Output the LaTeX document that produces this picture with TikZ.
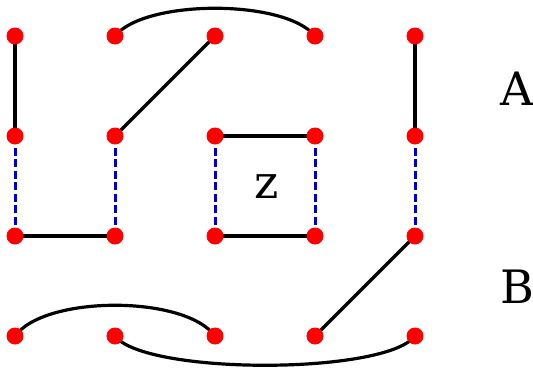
\documentclass[tikz,border=0pt]{standalone}
\usepackage{fontspec}
\setmainfont{DejaVu Serif}
\usetikzlibrary{backgrounds}
\definecolor{dblue}{RGB}{0,0,205}
\begin{document}
\begin{tikzpicture}[x=1pt,y=-1pt,
  dot/.style={circle,fill=red,inner sep=0pt,minimum size=17pt},
  edge/.style={black,line width=3.2pt},
  dashedge/.style={dblue,line width=3pt,dash pattern=on 8pt off 3.5pt},
  lab/.style={font=\fontsize{46}{50}\selectfont,inner sep=0pt}]
\useasboundingbox (0,0) rectangle (533,368);
\foreach \c/\x in {1/15,2/115,3/215,4/315,5/415}{
  \foreach \r/\y in {1/36,2/136,3/236,4/336}{
    \node[dot] (p\r\c) at (\x,\y) {};
  }
}
\node[lab] (A) at (517,89) {A};
\node[lab] (B) at (517,287) {B};
\node[lab] (z) at (267,187) {z};
\begin{scope}[on background layer]
\draw[edge] (p11.center) -- (p21.center);
\draw[edge] (p15.center) -- (p25.center);
\draw[edge] (p13.center) -- (p22.center);
\draw[edge] (p12.center) .. controls +(30,-37) and +(-30,-37) .. (p14.center);
\draw[edge] (p23.center) -- (p24.center);
\draw[edge] (p31.center) -- (p32.center);
\draw[edge] (p33.center) -- (p34.center);
\draw[edge] (p35.center) -- (p44.center);
\draw[edge] (p41.center) .. controls +(30,-41) and +(-30,-41) .. (p43.center);
\draw[edge] (p42.center) .. controls +(30,39) and +(-30,39) .. (p45.center);
\foreach \c in {1,...,5}{
  \draw[dashedge] (p2\c.center) -- (p3\c.center);
}
\end{scope}
\end{tikzpicture}
\end{document}
